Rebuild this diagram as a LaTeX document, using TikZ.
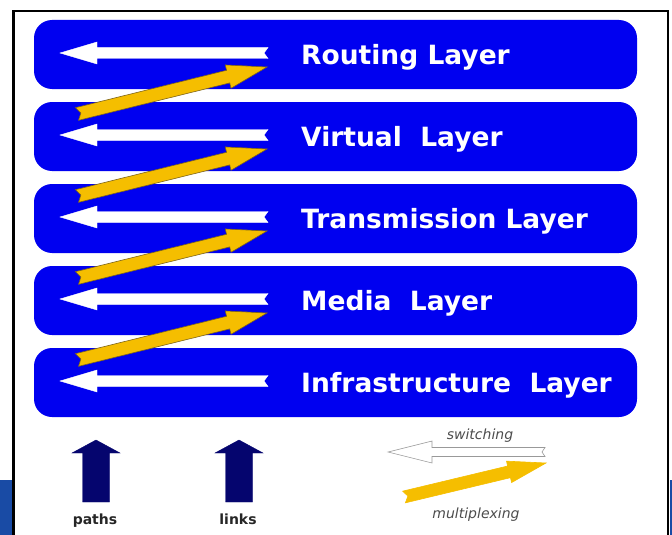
\documentclass[tikz,border=0pt]{standalone}
\usepackage{fontspec}
\usetikzlibrary{calc}
\setmainfont{DejaVu Sans}

\definecolor{layerblue}{RGB}{0,0,240}
\definecolor{muxgold}{RGB}{245,190,0}
\definecolor{muxedge}{RGB}{125,100,25}
\definecolor{upnavy}{RGB}{5,5,110}
\definecolor{bandblue}{RGB}{25,75,165}

% fat arrow: [style]{tail}{tip}{half shaft}{half head}{head length}{tail notch}
\newcommand{\fatarrow}[7][]{%
  \coordinate (fa-a) at #2;
  \coordinate (fa-b) at #3;
  \coordinate (fa-h) at ($(fa-b)!#6!(fa-a)$);
  \filldraw[#1] ($(fa-a)!#4!90:(fa-b)$) -- ($(fa-h)!#4!90:(fa-b)$)
    -- ($(fa-h)!#5!90:(fa-b)$) -- (fa-b) -- ($(fa-h)!#5!-90:(fa-b)$)
    -- ($(fa-h)!#4!-90:(fa-b)$) -- ($(fa-a)!#4!-90:(fa-b)$)
    -- ($(fa-a)!#7!(fa-b)$) -- cycle;
}

\begin{document}
\begin{tikzpicture}[x=1pt,y=-1pt,
  layer/.style={fill=layerblue,rounded corners=18pt,minimum width=603pt,minimum height=69pt,inner sep=0pt},
  layertext/.style={anchor=base west,text=white,font=\bfseries\fontsize{26.5}{30}\selectfont,inner sep=0pt},
  switcharrow/.style={fill=white,draw=white,line width=0.4pt},
  muxarrow/.style={fill=muxgold,draw=muxedge,line width=0.6pt},
  uparrow/.style={fill=upnavy,draw=upnavy,line width=0.4pt},
  legendtext/.style={anchor=base,font=\bfseries\fontsize{14}{16}\selectfont,text=black!85},
  keytext/.style={font=\itshape\fontsize{14}{16}\selectfont,text=black!70}]

\useasboundingbox (0,0) rectangle (672,535);

% frame and the cut off bands at the bottom
\fill[bandblue] (0,480) rectangle (12,535);
\fill[bandblue] (669.5,480) rectangle (672,535);
\draw[line width=2.5pt] (13.5,536) -- (13.5,11) -- (668,11) -- (668,536);

% the five layers
\node[layer] (routing) at (335.5,54.5) {};
\node[layer] (virtual) at (335.5,136.5) {};
\node[layer] (transmission) at (335.5,218.5) {};
\node[layer] (media) at (335.5,300.5) {};
\node[layer] (infra) at (335.5,382.5) {};

\node[layertext] (routingtxt) at (301,64.5) {Routing Layer};
\node[layertext] (virtualtxt) at (301,146.5) {Virtual~~Layer};
\node[layertext] (transmissiontxt) at (301,228.5) {Transmission Layer};
\node[layertext] (mediatxt) at (301,310.5) {Media~~Layer};
\node[layertext] (infratxt) at (301,392.5) {Infrastructure~~Layer};

% switching (white, right to left)
\fatarrow[switcharrow]{(268,53)}{(60,53)}{5.5pt}{11pt}{37pt}{4pt}
\fatarrow[switcharrow]{(268,135)}{(60,135)}{5.5pt}{11pt}{37pt}{4pt}
\fatarrow[switcharrow]{(268,217)}{(60,217)}{5.5pt}{11pt}{37pt}{4pt}
\fatarrow[switcharrow]{(268,299)}{(60,299)}{5.5pt}{11pt}{37pt}{4pt}
\fatarrow[switcharrow]{(268,381)}{(60,381)}{5.5pt}{11pt}{37pt}{4pt}

% multiplexing (yellow, up one layer)
\fatarrow[muxarrow]{(77,114)}{(267,67)}{6.5pt}{12pt}{40pt}{4pt}
\fatarrow[muxarrow]{(77,196)}{(267,149)}{6.5pt}{12pt}{40pt}{4pt}
\fatarrow[muxarrow]{(77,278)}{(267,231)}{6.5pt}{12pt}{40pt}{4pt}
\fatarrow[muxarrow]{(77,360)}{(267,313)}{6.5pt}{12pt}{40pt}{4pt}

% key
\fatarrow[uparrow]{(96,502)}{(96,440)}{13.5pt}{24pt}{13pt}{0pt}
\fatarrow[uparrow]{(239,502)}{(239,440)}{13.5pt}{24pt}{13pt}{0pt}
\node[legendtext] (paths) at (95,524) {paths};
\node[legendtext] (links) at (238,524) {links};

\fatarrow[fill=white,draw=black!40,line width=0.6pt]{(545,452)}{(388,452)}{4.5pt}{11pt}{44pt}{3pt}
\fatarrow[muxarrow,draw=muxgold]{(404,497)}{(546,463)}{6pt}{11pt}{38pt}{4pt}
\node[keytext] (switching) at (480,436) {switching};
\node[keytext] (multiplexing) at (476,515) {multiplexing};

\end{tikzpicture}
\end{document}
